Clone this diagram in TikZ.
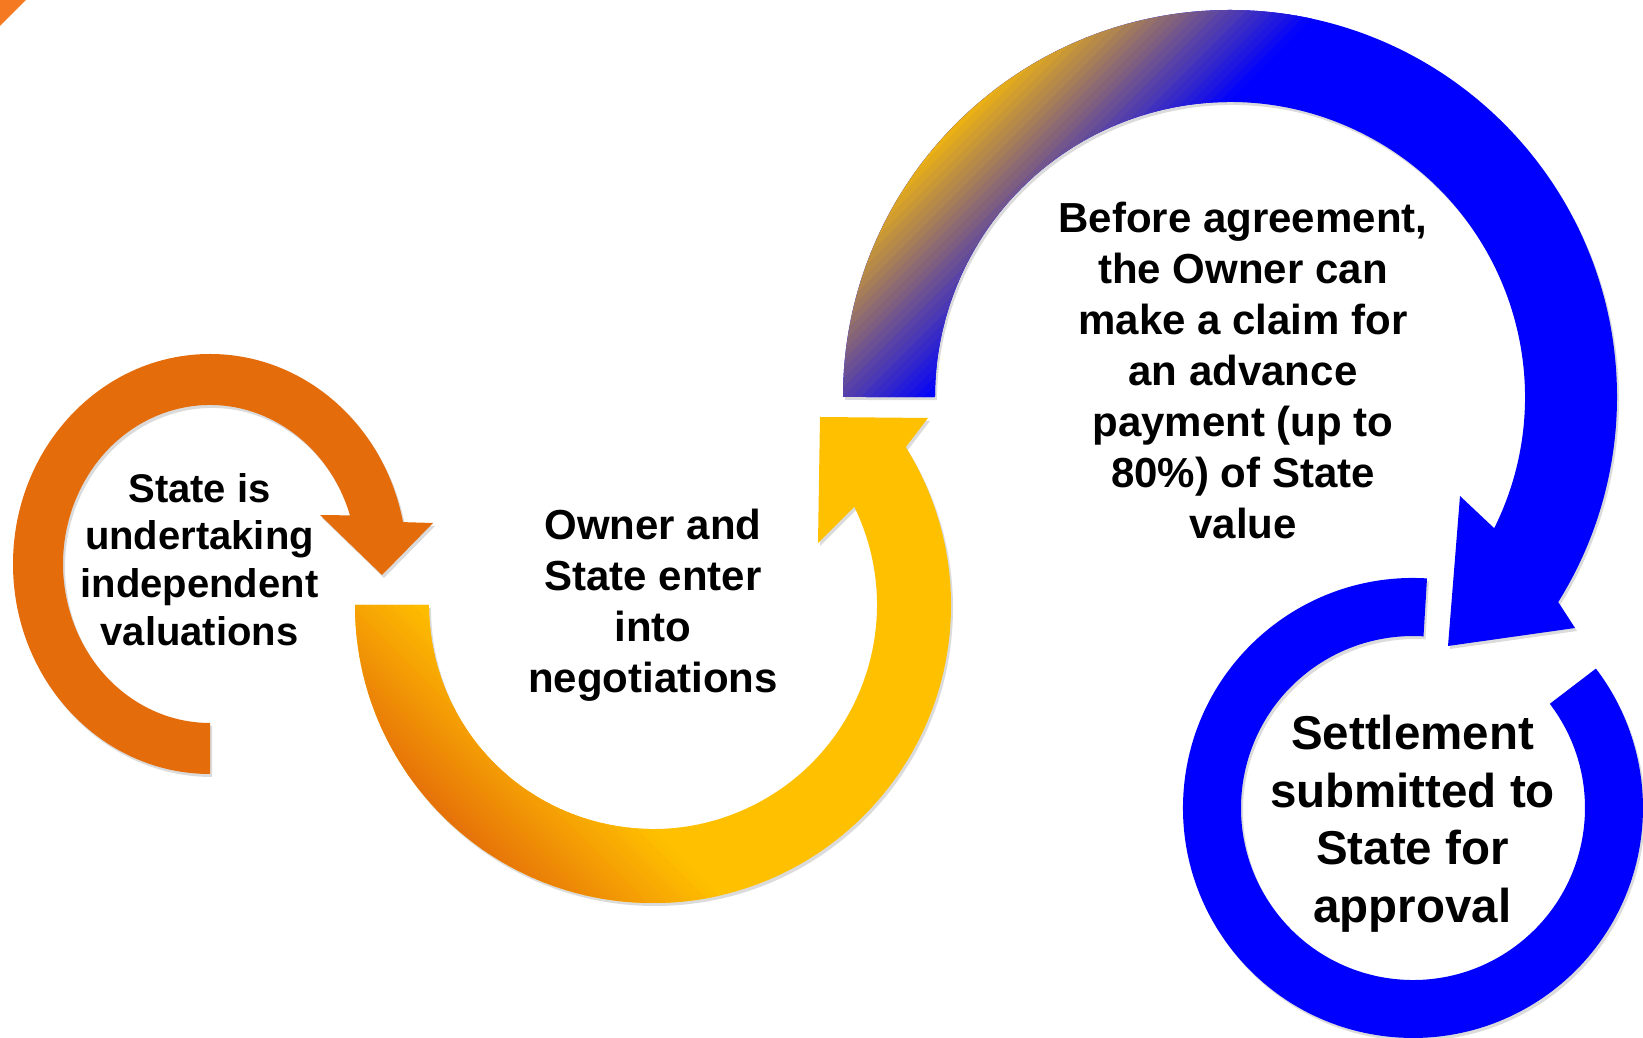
\documentclass[tikz,border=0pt]{standalone}
\usepackage{fontspec}
\setmainfont{Liberation Sans}
\usetikzlibrary{calc}
\definecolor{orng}{RGB}{228,108,10}
\definecolor{yelo}{RGB}{255,192,0}
\definecolor{blu}{RGB}{0,0,255}
\definecolor{cornerorng}{RGB}{244,121,32}
\tikzset{
    steptext/.style = {
        align=center,
        inner sep=0pt,
        anchor=north,
        text=black
    },
    shadowfill/.style = {
        fill=black,
        opacity=0.14
    }
}
% outlines of the four arrows
\newcommand\orangearrow{(210,264) arc[start angle=270, end angle=11.5, x radius=197, y radius=210]
    -- (433,515) -- (382,463) -- (320,523) -- (350,522.6)
    arc[start angle=17.8, end angle=270, x radius=147, y radius=159] -- cycle}
\newcommand\yellowarrow{(355,433) arc[start angle=180, end angle=392, radius=298]
    -- (928,620) -- (820,621) -- (818,495) -- (854.3,531.2)
    arc[start angle=386, end angle=180, radius=224] -- cycle}
\newcommand\bluearrow{(843,641) arc[start angle=180, end angle=-32, radius=387]
    -- (1575,410) -- (1448,392) -- (1460,542) -- (1494.2,509.8)
    arc[start angle=-26.4, end angle=180, radius=295] -- cycle}
\newcommand\bluering{(1427,459.6) arc[start angle=86.5, end angle=397.3, radius=230]
    -- (1549.8,334.2) arc[start angle=397.3, end angle=86.5, radius=172] -- cycle}

\begin{document}
\begin{tikzpicture}[x=1pt, y=1pt]
            \clip (0,0) rectangle (1643,1038);
            \fill[white] (0,0) rectangle (1643,1038);
            \fill[cornerorng] (0,1038) -- (26,1038) -- (0,1012) -- cycle;

            % shadows
            \fill[shadowfill, shift={(2,-3)}] \orangearrow;
            \fill[shadowfill, shift={(2,-3)}] \yellowarrow;
            \fill[shadowfill, shift={(2,-3)}] \bluearrow;
            \fill[shadowfill, shift={(2,-3)}] \bluering;

            % arrows
            \fill[orng] \orangearrow;
            \begin{scope}
                \clip \yellowarrow;
                \fill[yelo] (0,0) rectangle (1643,1038);
                \fill[orng, rotate=45] (-1000,-2000) rectangle (459.6,2000);
                \foreach \i in {0,...,29} {
                    \pgfmathsetmacro\bandb{459.6+\i*4.95}
                    \pgfmathsetmacro\bande{\bandb+5.5}
                    \pgfmathtruncatemacro\mixp{100*(\i+0.5)/30}
                    \fill[yelo!\mixp!orng, rotate=45] (\bandb,-2000) rectangle (\bande,2000);
                }
            \end{scope}
            \begin{scope}
                \clip \bluearrow;
                \fill[blu] (0,0) rectangle (1643,1038);
                \fill[yelo, rotate=-45] (-1000,-500) rectangle (15.6,3000);
                \foreach \i in {0,...,29} {
                    \pgfmathsetmacro\bandb{15.6+\i*6.36}
                    \pgfmathsetmacro\bande{\bandb+6.9}
                    \pgfmathtruncatemacro\mixp{100*(\i+0.5)/30}
                    \fill[blu!\mixp!yelo, rotate=-45] (\bandb,-500) rectangle (\bande,3000);
                }
            \end{scope}
            \fill[blu] \bluering;

            % nodes
            \node [steptext, font=\fontsize{40}{47.7}\selectfont\bfseries] (valuation) at (199.5,565)
                {State is\\undertaking\\independent\\valuations};
            \node [steptext, font=\fontsize{42}{51}\selectfont\bfseries] (negotiation) at (653,529)
                {Owner and\\State enter\\into\\negotiations};
            \node [steptext, font=\fontsize{42}{51}\selectfont\bfseries] (advance) at (1243,836)
                {Before agreement,\\the Owner can\\make a claim for\\an advance\\payment (up to\\80\%) of State\\value};
            \node [steptext, font=\fontsize{47.5}{57.5}\selectfont\bfseries] (settlement) at (1412.5,323)
                {Settlement\\submitted to\\State for\\approval};
\end{tikzpicture}
\end{document}
